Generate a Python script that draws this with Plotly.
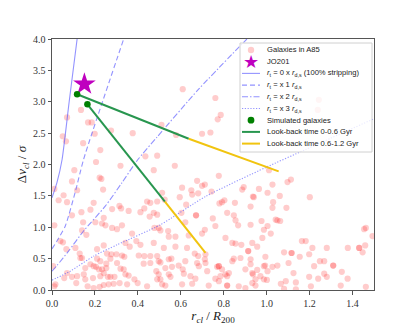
"""Galaxies in A85: phase-space diagram with stripping curves and simulated JO201 tracks."""

import plotly.graph_objects as go

# Galaxies in A85 (r_cl / R200, |dv_cl| / sigma)
galaxies = [
    (0.070, 2.75), (0.135, 2.87), (0.168, 2.67), (0.185, 2.67), (0.050, 2.45), (0.065, 2.37),
    (0.145, 2.34), (0.199, 2.49), (0.275, 2.54), (0.376, 2.50), (0.225, 2.23), (0.435, 2.13),
    (0.490, 2.14), (0.609, 3.20), (0.761, 3.06), (0.786, 2.79), (0.772, 2.72), (0.510, 2.63),
    (0.578, 2.47), (0.699, 2.49), (0.738, 2.51), (1.243, 3.03), (1.238, 2.87),
    (0.205, 2.04), (0.319, 1.98), (0.104, 1.91), (0.222, 1.79), (0.230, 1.77), (0.093, 1.73),
    (0.011, 1.61), (0.117, 1.59), (0.238, 1.60), (0.054, 1.51), (0.031, 1.43), (0.070, 1.40),
    (0.194, 1.39), (0.443, 1.41), (0.474, 1.91), (0.458, 1.39), (0.280, 1.29), (0.314, 1.34),
    (0.322, 1.30), (0.357, 1.26), (0.412, 1.24), (0.430, 1.30), (0.490, 1.41), (0.093, 1.19),
    (0.137, 1.24), (0.179, 1.28), (0.241, 1.15), (0.233, 1.06), (0.249, 1.03), (0.280, 0.99),
    (0.303, 0.97), (0.326, 1.03), (0.202, 1.08), (0.145, 1.08), (0.455, 1.17), (0.474, 1.23),
    (0.490, 1.20), (0.477, 0.99), (0.497, 0.99), (0.011, 1.03), (0.140, 0.95), (0.160, 0.88),
    (0.039, 0.78), (0.051, 0.76), (0.373, 0.90), (0.393, 0.78), (0.412, 0.72), (0.342, 0.75),
    (0.241, 0.71), (0.474, 0.75), (0.067, 0.65), (0.109, 0.67), (0.129, 0.58), (0.140, 0.51),
    (0.132, 0.51), (0.210, 0.65), (0.256, 0.58), (0.277, 0.57), (0.300, 0.57), (0.326, 0.55),
    (0.337, 0.53), (0.362, 0.69), (0.404, 0.55), (0.430, 0.54), (0.458, 0.54), (0.490, 0.54),
    (0.210, 0.50), (0.225, 0.46), (0.272, 0.50), (0.253, 0.42), (0.303, 0.43), (0.319, 0.34),
    (0.334, 0.33), (0.194, 0.38), (0.205, 0.37), (0.218, 0.33), (0.233, 0.33), (0.253, 0.35),
    (0.155, 0.35), (0.179, 0.41), (0.005, 0.38), (0.497, 0.46), (0.427, 0.42), (0.458, 0.43),
    (0.486, 0.30), (0.070, 0.27), (0.093, 0.21), (0.117, 0.22), (0.148, 0.25), (0.155, 0.17),
    (0.191, 0.19), (0.225, 0.22), (0.241, 0.27), (0.260, 0.21), (0.272, 0.21), (0.291, 0.21),
    (0.342, 0.25), (0.357, 0.23), (0.384, 0.17), (0.399, 0.11), (0.350, 0.09), (0.315, 0.11),
    (0.287, 0.10), (0.264, 0.09), (0.241, 0.08), (0.222, 0.05), (0.194, 0.03), (0.166, 0.06),
    (0.016, 0.09), (0.011, 0.06), (0.113, 0.11), (0.057, 0.19), (0.443, 0.06), (0.490, 0.17),
    (0.572, 1.98), (0.777, 1.82), (0.676, 1.74), (0.606, 1.63), (0.699, 1.66), (0.712, 1.68),
    (0.649, 1.59), (0.681, 1.54), (0.653, 1.52), (0.743, 1.57), (0.595, 1.48), (0.513, 1.55),
    (0.525, 1.44), (0.625, 1.36), (0.792, 1.40), (0.803, 1.43), (0.780, 1.38), (0.852, 1.39),
    (0.886, 1.60), (0.893, 1.64), (0.936, 1.49), (0.940, 1.48), (0.964, 1.61), (0.925, 1.33),
    (0.603, 1.23), (0.671, 1.19), (0.671, 1.19), (0.816, 1.23), (0.847, 1.19), (0.855, 1.11),
    (0.749, 1.14), (0.761, 1.02), (0.867, 1.03), (0.621, 1.08), (0.505, 0.95), (0.541, 0.94),
    (0.544, 0.85), (0.575, 0.85), (0.637, 0.87), (0.712, 0.96), (0.699, 0.90), (0.808, 0.83),
    (0.840, 0.75), (0.855, 0.74), (0.882, 0.72), (0.925, 1.04), (0.976, 1.10), (0.987, 0.96),
    (0.980, 0.83), (0.933, 0.75), (0.914, 0.62), (0.914, 0.62), (0.956, 0.69), (0.521, 0.67),
    (0.575, 0.69), (0.629, 0.67), (0.665, 0.58), (0.681, 0.54), (0.715, 0.57), (0.712, 0.49),
    (0.676, 0.43), (0.684, 0.38), (0.715, 0.43), (0.621, 0.46), (0.590, 0.39), (0.609, 0.33),
    (0.556, 0.50), (0.544, 0.49), (0.505, 0.44), (0.559, 0.37), (0.528, 0.35), (0.497, 0.25),
    (0.544, 0.25), (0.552, 0.21), (0.614, 0.26), (0.645, 0.22), (0.668, 0.18), (0.723, 0.30),
    (0.769, 0.37), (0.777, 0.38), (0.777, 0.38), (0.792, 0.33), (0.808, 0.25), (0.816, 0.22),
    (0.824, 0.27), (0.761, 0.18), (0.777, 0.14), (0.785, 0.22), (0.840, 0.46), (0.847, 0.50),
    (0.878, 0.51), (0.901, 0.33), (0.925, 0.49), (0.925, 0.41), (0.933, 0.27), (0.936, 0.25),
    (0.948, 0.17), (0.956, 0.32), (0.971, 0.22), (0.987, 0.38), (0.994, 0.53), (0.987, 0.17),
    (0.505, 0.17), (0.513, 0.09), (0.528, 0.07), (0.606, 0.09), (0.653, 0.10), (0.730, 0.07),
    (0.816, 0.07), (0.816, 0.07), (0.870, 0.06), (0.901, 0.03), (0.948, 0.07), (0.933, 0.11),
    (1.011, 1.91), (1.027, 1.68), (1.097, 1.72), (1.113, 1.76), (1.004, 1.55), (1.061, 1.50),
    (1.201, 1.48), (1.030, 1.40), (1.027, 1.31), (1.092, 1.31), (1.042, 1.12), (1.050, 1.11),
    (1.063, 1.10), (1.004, 1.02), (1.019, 0.90), (1.462, 0.99), (1.454, 0.97), (1.493, 0.86),
    (1.164, 0.78), (1.182, 0.78), (1.213, 0.67), (1.280, 0.67), (1.378, 0.67), (1.431, 0.67),
    (1.431, 0.67), (1.459, 0.71), (1.447, 0.60), (1.081, 0.60), (1.116, 0.59), (1.116, 0.59),
    (1.154, 0.53), (1.198, 0.57), (1.102, 0.43), (1.248, 0.46), (1.268, 0.46), (1.221, 0.38),
    (1.310, 0.39), (1.310, 0.39), (0.993, 0.39), (1.027, 0.37), (1.050, 0.39), (1.004, 0.30),
    (1.125, 0.27), (1.268, 0.26), (1.280, 0.21), (1.350, 0.29), (1.198, 0.21), (1.240, 0.18),
    (1.377, 0.18), (1.001, 0.16), (1.066, 0.10), (1.089, 0.14), (1.136, 0.12), (1.206, 0.06),
    (1.345, 0.07), (1.462, 0.05), (1.081, 0.02), (1.136, 0.01),
]

# Truncation-radius curves r_t = n x r_d,s
strip_0x_r = [0.0, 0.023, 0.047, 0.080, 0.117]
strip_0x_v = [1.47, 1.71, 2.08, 3.00, 4.00]
strip_1x_r = [0.0, 0.023, 0.062, 0.109, 0.147, 0.334]
strip_1x_v = [0.656, 0.78, 1.02, 1.57, 2.08, 4.00]
strip_2x_r = [0.0, 0.023, 0.077, 0.147, 0.249, 0.326, 0.396, 0.490, 0.683, 0.908]
strip_2x_v = [0.30, 0.39, 0.62, 0.94, 1.34, 1.71, 2.06, 2.44, 3.20, 4.00]
strip_3x_r = [0.0, 0.085, 0.194, 0.303, 0.505, 0.715, 0.994, 1.182, 1.50]
strip_3x_v = [0.157, 0.30, 0.54, 0.72, 1.04, 1.49, 1.95, 2.24, 2.73]

# JO201 and the two simulated galaxies (start, 0.6 Gyr, 1.2 Gyr look-back)
jo201_r, jo201_v = [0.151], [3.28]
sim_a_r = [0.117, 0.637, 1.056]
sim_a_v = [3.12, 2.41, 1.89]
sim_b_r = [0.165, 0.526, 0.715]
sim_b_v = [2.96, 1.41, 0.59]

CURVE_COLOR = "rgba(80,80,255,0.62)"
GREEN = "#28964f"
YELLOW = "#f1c40f"
PINK = "rgba(255,0,0,0.2)"
MAGENTA = "#bf00bf"

figure = go.Figure()
figure.add_trace(
    go.Scatter(
        x=[g[0] for g in galaxies],
        y=[g[1] for g in galaxies],
        mode="markers",
        marker={"size": 6.2, "color": PINK, "line": {"width": 0}},
        name="Galaxies in A85",
    )
)
for r_vals, v_vals, dash in [
    (strip_0x_r, strip_0x_v, "solid"),
    (strip_1x_r, strip_1x_v, "5px,3px"),
    (strip_2x_r, strip_2x_v, "6px,2px,1.5px,2px"),
    (strip_3x_r, strip_3x_v, "1.2px,1.6px"),
]:
    figure.add_trace(
        go.Scatter(
            x=r_vals, y=v_vals, mode="lines",
            line={"color": CURVE_COLOR, "width": 1.1, "dash": dash, "shape": "spline", "smoothing": 0.6},
        )
    )

figure.add_trace(
    go.Scatter(
        x=jo201_r, y=jo201_v, mode="markers",
        marker={"symbol": "star", "size": 17, "color": MAGENTA, "line": {"width": 0}},
    )
)
for r_vals, v_vals in [(sim_a_r, sim_a_v), (sim_b_r, sim_b_v)]:
    figure.add_trace(
        go.Scatter(x=r_vals[:2], y=v_vals[:2], mode="lines", line={"color": GREEN, "width": 2})
    )
    figure.add_trace(
        go.Scatter(x=r_vals[1:], y=v_vals[1:], mode="lines", line={"color": YELLOW, "width": 2})
    )
    figure.add_trace(
        go.Scatter(
            x=r_vals[:1], y=v_vals[:1], mode="markers",
            marker={"size": 6.5, "color": "#008000", "line": {"width": 0}},
        )
    )

# Hand-built legend (matplotlib style, compact rows)
PLOT_L, PLOT_T, PLOT_W, PLOT_H = 52, 39, 322, 251


def to_paper(px, py):
    return (px - PLOT_L) / PLOT_W, (PLOT_T + PLOT_H - py) / PLOT_H


legend_labels = [
    "Galaxies in A85",
    "JO201",
    "<i>r</i><sub>t</sub> = 0 x <i>r</i><sub>d,s</sub> (100% stripping)",
    "<i>r</i><sub>t</sub> = x 1 <i>r</i><sub>d,s</sub>",
    "<i>r</i><sub>t</sub> = x 2 <i>r</i><sub>d,s</sub>",
    "<i>r</i><sub>t</sub> = x 3 <i>r</i><sub>d,s</sub>",
    "Simulated galaxies",
    "Look-back time 0-0.6 Gyr",
    "Look-back time 0.6-1.2 Gyr",
]
legend_kinds = ["pink", "star", "solid", "5px,3px", "6px,2px,1.5px,2px", "1.2px,1.6px", "green", GREEN, YELLOW]

shapes = []
annotations = []
bx0, by0 = to_paper(240, 43)
bx1, by1 = to_paper(372, 152)
shapes.append(
    {
        "type": "rect", "xref": "paper", "yref": "paper", "layer": "above",
        "x0": bx0, "x1": bx1, "y0": by1, "y1": by0,
        "fillcolor": "rgba(255,255,255,0.8)", "line": {"color": "#d0d0d0", "width": 1},
    }
)
for i, (label, kind) in enumerate(zip(legend_labels, legend_kinds)):
    row_py = 50 + 11.7 * i
    hx0, hy = to_paper(242, row_py)
    hx1, _ = to_paper(260, row_py)
    cx, _ = to_paper(251, row_py)
    tx, _ = to_paper(265, row_py)
    if kind in ("pink", "green"):
        rad = 3.2 if kind == "pink" else 3.4
        shapes.append(
            {
                "type": "circle", "xref": "paper", "yref": "paper", "layer": "above",
                "x0": cx - rad / PLOT_W, "x1": cx + rad / PLOT_W,
                "y0": hy - rad / PLOT_H, "y1": hy + rad / PLOT_H,
                "fillcolor": PINK if kind == "pink" else "#008000", "line": {"width": 0},
            }
        )
    elif kind == "star":
        annotations.append(
            {
                "text": "★", "x": cx, "y": hy, "xref": "paper", "yref": "paper",
                "showarrow": False, "xanchor": "center", "yanchor": "middle",
                "font": {"size": 18, "color": MAGENTA, "family": "DejaVu Sans"},
            }
        )
    else:
        is_track = kind in (GREEN, YELLOW)
        shapes.append(
            {
                "type": "line", "xref": "paper", "yref": "paper", "layer": "above",
                "x0": hx0, "x1": hx1, "y0": hy, "y1": hy,
                "line": {
                    "color": kind if is_track else CURVE_COLOR,
                    "width": 2 if is_track else 1.1,
                    "dash": "solid" if is_track else kind,
                },
            }
        )
    annotations.append(
        {
            "text": label, "x": tx, "y": hy, "xref": "paper", "yref": "paper",
            "showarrow": False, "xanchor": "left", "yanchor": "middle",
            "font": {"size": 7.6, "color": "#222222", "family": "Liberation Sans, Arial"},
        }
    )

axis_style = {
    "showline": True, "linecolor": "#555555", "linewidth": 1, "mirror": True,
    "ticks": "outside", "ticklen": 3.5, "tickcolor": "#555555", "tickwidth": 1,
    "showgrid": False, "zeroline": False, "tickformat": ".1f", "automargin": False,
    "tickfont": {"family": "Liberation Serif, serif", "size": 10, "color": "#333333"},
}

figure.update_layout(
    width=415,
    height=332,
    margin={"l": PLOT_L, "r": 415 - PLOT_L - PLOT_W, "t": PLOT_T, "b": 332 - PLOT_T - PLOT_H},
    paper_bgcolor="white",
    plot_bgcolor="white",
    showlegend=False,
    xaxis={
        **axis_style,
        "range": [0, 1.5],
        "tick0": 0, "dtick": 0.2,
        "title": {
            "text": "<i>r</i><sub><i>cl</i></sub> / <i>R</i><sub>200</sub>",
            "font": {"family": "Liberation Serif, serif", "size": 13, "color": "#222222"},
            "standoff": 0,
        },
    },
    yaxis={
        **axis_style,
        "range": [0, 4],
        "tick0": 0, "dtick": 0.5,
        "title": {
            "text": "Δ<i>v</i><sub><i>cl</i></sub> / <i>σ</i>",
            "font": {"family": "Liberation Serif, serif", "size": 13, "color": "#222222"},
            "standoff": 3,
        },
    },
    shapes=shapes,
    annotations=annotations,
)

# the page body has a default 8px margin; drop it so the figure fills the window
figure.write_html(
    "out.html",
    config={"displayModeBar": False},
    post_script="document.body.style.margin = '0'; document.body.style.overflow = 'hidden';",
)
